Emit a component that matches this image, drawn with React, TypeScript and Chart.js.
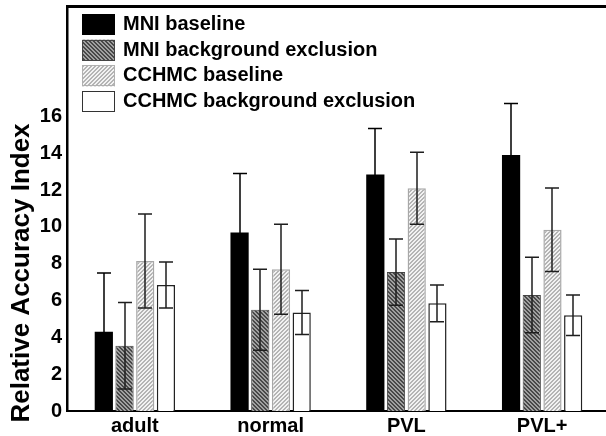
import React, { useEffect, useRef } from 'react';
import { Chart, registerables } from 'chart.js';

Chart.register(...registerables);

const FONT = "'Liberation Sans', Arial, Helvetica, sans-serif";

const categories = ['adult', 'normal', 'PVL', 'PVL+'];
const seriesNames = ['MNI baseline', 'MNI background exclusion', 'CCHMC baseline', 'CCHMC background exclusion'];

const mniBaseline = [4.3, 9.7, 12.85, 13.9];
const mniBaselineErr = [3.2, 3.2, 2.5, 2.8];
const mniBgExcl = [3.55, 5.5, 7.55, 6.3];
const mniBgExclErr = [2.35, 2.2, 1.8, 2.05];
const cchmcBaseline = [8.15, 7.7, 12.1, 9.85];
const cchmcBaselineErr = [2.55, 2.45, 1.95, 2.27];
const cchmcBgExcl = [6.85, 5.35, 5.85, 5.2];
const cchmcBgExclErr = [1.25, 1.2, 1.0, 1.1];

const yTickValues = [0, 2, 4, 6, 8, 10, 12, 14, 16];
const yMax = 22;
const yTitle = 'Relative Accuracy Index';

const seriesValues = [mniBaseline, mniBgExcl, cchmcBaseline, cchmcBgExcl];
const seriesErrors = [mniBaselineErr, mniBgExclErr, cchmcBaselineErr, cchmcBgExclErr];

function makePattern(ctx: CanvasRenderingContext2D, bg: string, fg: string, dir: 'back' | 'fwd') {
  const c = document.createElement('canvas');
  c.width = 4;
  c.height = 4;
  const g = c.getContext('2d')!;
  g.fillStyle = bg;
  g.fillRect(0, 0, 4, 4);
  g.fillStyle = fg;
  for (let y = 0; y < 4; y++) {
    for (let x = 0; x < 4; x++) {
      const k = dir === 'back' ? (((x - y) % 4) + 4) % 4 : (x + y) % 4;
      if (k < 2) g.fillRect(x, y, 1, 1);
    }
  }
  return ctx.createPattern(c, 'repeat') as CanvasPattern;
}

export default function App() {
  const ref = useRef<HTMLCanvasElement>(null);

  useEffect(() => {
    const canvas = ref.current!;
    const ctx = canvas.getContext('2d')!;
    const patDark = makePattern(ctx, '#a0a0a0', '#484848', 'back');
    const patLight = makePattern(ctx, '#f2f2f2', '#b4b4b4', 'fwd');

    const fills: any[] = ['#000000', patDark, patLight, '#ffffff'];
    const borders = ['#000000', '#444444', '#a8a8a8', '#222222'];
    const borderWidths = [0, 1, 1.5, 1.5];
    const legendBorders = ['#000000', '#444444', '#b0b0b0', '#333333'];
    const errColors = ['#000000', '#1e1e1e', '#1e1e1e', '#1e1e1e'];

    const overlayPlugin = {
      id: 'overlay',
      afterDatasetsDraw(chart: any) {
        const c = chart.ctx as CanvasRenderingContext2D;
        const ys = chart.scales.y;
        c.save();
        c.lineWidth = 1.5;
        chart.data.datasets.forEach((ds: any, i: number) => {
          const meta = chart.getDatasetMeta(i);
          const errs = seriesErrors[i];
          c.strokeStyle = errColors[i];
          meta.data.forEach((bar: any, j: number) => {
            const v = ds.data[j];
            const e = errs[j];
            const x = Math.round(bar.x);
            const yt = ys.getPixelForValue(v + e);
            const yb = ys.getPixelForValue(v - e);
            c.beginPath();
            c.moveTo(x, yt);
            c.lineTo(x, yb);
            c.moveTo(x - 7, yt);
            c.lineTo(x + 7, yt);
            c.moveTo(x - 7, yb);
            c.lineTo(x + 7, yb);
            c.stroke();
          });
        });
        c.restore();
      },
      afterDraw(chart: any) {
        const c = chart.ctx as CanvasRenderingContext2D;
        const area = chart.chartArea;
        c.save();
        // top frame line
        c.strokeStyle = '#000';
        c.lineWidth = 3;
        c.beginPath();
        c.moveTo(area.left - 1, area.top + 0.5);
        c.lineTo(area.right, area.top + 0.5);
        c.stroke();

        // legend
        c.font = `bold 20px ${FONT}`;
        c.textBaseline = 'middle';
        c.textAlign = 'left';
        chart.data.datasets.forEach((ds: any, i: number) => {
          const top = 14 + i * 25.7;
          c.fillStyle = fills[i];
          c.fillRect(82, top, 33, 21);
          c.strokeStyle = legendBorders[i];
          c.lineWidth = 1;
          c.strokeRect(82.5, Math.round(top) + 0.5, 32, 20);
          c.fillStyle = '#000';
          c.fillText(ds.label, 123, top + 10.5);
        });

        // y title
        c.translate(29, 273);
        c.rotate(-Math.PI / 2);
        c.font = `bold 26px ${FONT}`;
        c.textAlign = 'center';
        c.textBaseline = 'alphabetic';
        c.fillStyle = '#000';
        c.fillText(yTitle, 0, 0);
        c.restore();
      },
    };

    const chart = new Chart(canvas, {
      type: 'bar',
      data: {
        labels: categories,
        datasets: seriesNames.map((name, i) => ({
          label: name,
          data: seriesValues[i],
          backgroundColor: fills[i],
          borderColor: borders[i],
          borderWidth: borderWidths[i],
          categoryPercentage: 0.61,
          barPercentage: 0.88,
        })),
      },
      options: {
        responsive: false,
        animation: false,
        devicePixelRatio: 1,
        layout: { padding: { top: 6, right: 4, bottom: 0, left: 0 } },
        plugins: {
          legend: { display: false },
          tooltip: { enabled: false },
          title: { display: false },
        },
        scales: {
          x: {
            type: 'category',
            offset: true,
            grid: { display: false, drawTicks: false, tickLength: 0 },
            border: { display: true, color: '#000', width: 2 },
            ticks: {
              color: '#000',
              padding: 3,
              font: { family: FONT, size: 20, weight: 'bold' },
            },
            afterFit(scale: any) {
              scale.height = 25;
              scale.paddingLeft = 0;
              scale.paddingRight = 0;
            },
          },
          y: {
            min: 0,
            max: yMax,
            grid: { display: false, drawTicks: false, tickLength: 0 },
            border: { display: true, color: '#000', width: 2.5 },
            ticks: {
              color: '#000',
              padding: 5,
              stepSize: 2,
              font: { family: FONT, size: 20, weight: 'bold' },
            },
            afterBuildTicks(scale: any) {
              scale.ticks = yTickValues.map((v) => ({ value: v }));
            },
            afterFit(scale: any) {
              scale.width = 67;
              scale.paddingTop = 0;
              scale.paddingBottom = 0;
            },
          },
        },
      },
      plugins: [overlayPlugin],
    } as any);

    return () => chart.destroy();
  }, []);

  return (
    <div
      style={{
        position: 'absolute',
        left: 0,
        top: 0,
        width: 606,
        height: 436,
        overflow: 'hidden',
        background: '#fff',
      }}
    >
      <canvas ref={ref} width={614} height={436} style={{ display: 'block' }} />
    </div>
  );
}
